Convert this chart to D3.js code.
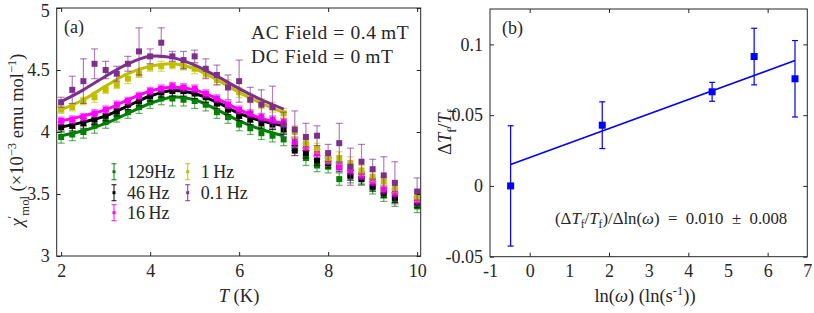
<!DOCTYPE html>
<html>
<head>
<meta charset="utf-8">
<script src="https://cdn.jsdelivr.net/npm/d3@7"></script>
<style>
  body { margin: 0; background: #fff; }
  svg text { font-family: "Liberation Serif", serif; fill: #262626; }
</style>
</head>
<body>
<svg id="canvas"></svg>
<script>
// ---- panel (a): AC susceptibility ----
const temps = [2, 2.25, 2.5, 2.75, 3, 3.25, 3.5, 3.75, 4, 4.25, 4.5, 4.75, 5, 5.25, 5.5, 5.75, 6, 6.25, 6.5, 6.75, 7,
               7.25, 7.5, 7.75, 8, 8.25, 8.5, 8.75, 9, 9.25, 9.5, 10];
const fitTemps = [2, 2.5, 3, 3.5, 4, 4.5, 5, 5.5, 6, 6.5, 7];

const freqLabels = ["129Hz", "46\u2009Hz", "16\u2009Hz", "1\u2009Hz", "0.1\u2009Hz"];
const freqColors = ["#008000", "#000000", "#ff00ff", "#bfbf00", "#7e2f8e"];

const chi129 = [3.96, 3.98, 4.00, 4.05, 4.08, 4.13, 4.16, 4.20, 4.24, 4.27, 4.27, 4.26, 4.25, 4.22, 4.16, 4.12, 4.06, 4.03, 3.99, 3.97, 3.94,
                3.90, 3.79, 3.73, 3.72, 3.62, 3.64, 3.62, 3.55, 3.49, 3.45, 3.40];
const chi46 = [4.04, 4.05, 4.07, 4.10, 4.13, 4.17, 4.22, 4.25, 4.29, 4.32, 4.33, 4.33, 4.31, 4.28, 4.23, 4.18, 4.13, 4.10, 4.07, 4.06, 4.02,
               3.85, 3.83, 3.77, 3.75, 3.72, 3.65, 3.62, 3.56, 3.51, 3.47, 3.43];
const chi16 = [4.09, 4.10, 4.12, 4.15, 4.18, 4.22, 4.25, 4.29, 4.33, 4.35, 4.37, 4.36, 4.35, 4.31, 4.27, 4.22, 4.18, 4.15, 4.12, 4.10, 4.08,
               3.92, 3.88, 3.83, 3.77, 3.72, 3.69, 3.65, 3.60, 3.54, 3.51, 3.45];
const chi1 = [4.18, 4.20, 4.25, 4.28, 4.34, 4.38, 4.43, 4.47, 4.52, 4.53, 4.54, 4.53, 4.51, 4.47, 4.42, 4.38, 4.32, 4.27, 4.23, 4.20, 4.15,
              4.00, 3.91, 3.87, 3.79, 3.79, 3.75, 3.69, 3.64, 3.60, 3.55, 3.48];
const chi01 = [4.24, 4.34, 4.41, 4.55, 4.50, 4.47, 4.55, 4.65, 4.61, 4.72, 4.61, 4.58, 4.61, 4.51, 4.46, 4.36, 4.41, 4.26, 4.22, 4.20, 4.06,
               4.02, 3.96, 3.97, 3.83, 3.91, 3.72, 3.76, 3.70, 3.65, 3.59, 3.52];

const err129 = [0.05, 0.05, 0.05, 0.06, 0.05, 0.05, 0.05, 0.05, 0.05, 0.05, 0.06, 0.05, 0.06, 0.05, 0.05, 0.05, 0.05, 0.05, 0.05, 0.05, 0.05,
                0.05, 0.06, 0.05, 0.05, 0.05, 0.05, 0.05, 0.05, 0.05, 0.05, 0.05];
const err46 = [0.04, 0.04, 0.04, 0.04, 0.04, 0.04, 0.04, 0.04, 0.04, 0.04, 0.04, 0.04, 0.04, 0.04, 0.04, 0.04, 0.04, 0.04, 0.04, 0.04, 0.04,
               0.04, 0.04, 0.04, 0.04, 0.04, 0.04, 0.04, 0.04, 0.04, 0.04, 0.04];
const err16 = [0.03, 0.03, 0.03, 0.03, 0.03, 0.03, 0.03, 0.03, 0.03, 0.03, 0.03, 0.03, 0.03, 0.03, 0.03, 0.03, 0.03, 0.03, 0.03, 0.03, 0.03,
               0.04, 0.03, 0.03, 0.03, 0.03, 0.03, 0.03, 0.03, 0.03, 0.03, 0.03];
const err1 = [0.03, 0.03, 0.03, 0.04, 0.03, 0.03, 0.04, 0.03, 0.03, 0.04, 0.03, 0.03, 0.04, 0.03, 0.04, 0.04, 0.04, 0.03, 0.04, 0.04, 0.04,
              0.05, 0.04, 0.04, 0.04, 0.05, 0.05, 0.04, 0.04, 0.04, 0.04, 0.04];
const err01 = [0.04, 0.11, 0.18, 0.12, 0.07, 0.06, 0.06, 0.19, 0.06, 0.12, 0.04, 0.07, 0.05, 0.08, 0.08, 0.10, 0.17, 0.10, 0.12, 0.17, 0.10,
               0.15, 0.11, 0.08, 0.07, 0.16, 0.15, 0.14, 0.08, 0.15, 0.17, 0.11];

const fit129 = [3.97, 4.01, 4.07, 4.15, 4.23, 4.28, 4.26, 4.18, 4.09, 4.02, 3.97];
const fit46 = [4.04, 4.08, 4.13, 4.21, 4.29, 4.335, 4.31, 4.24, 4.15, 4.09, 4.05];
const fit16 = [4.09, 4.13, 4.18, 4.26, 4.33, 4.36, 4.34, 4.27, 4.18, 4.11, 4.07];
const fit1 = [4.18, 4.26, 4.37, 4.47, 4.53, 4.55, 4.51, 4.42, 4.32, 4.23, 4.156];
const fit01 = [4.245, 4.34, 4.45, 4.55, 4.61, 4.60, 4.54, 4.45, 4.35, 4.26, 4.185];

const tTicks = [2, 4, 6, 8, 10];
const chiTicks = [3, 3.5, 4, 4.5, 5];

// ---- panel (b): freezing temperature shift ----
const lnOmega = [-0.48, 1.83, 4.60, 5.66, 6.69];
const dTf = [0.000, 0.0429, 0.0665, 0.0914, 0.0757];
const dTfErr = [0.0425, 0.0165, 0.0067, 0.020, 0.027];
const lineLn = [-0.48, 6.69];
const lineTf = [0.0151, 0.0886];
const lnTicks = [-1, 0, 1, 2, 3, 4, 5, 6, 7];
const lnMarks = [0, 2, 4, 6];
const tfTicks = [-0.05, 0, 0.05, 0.1];

const width = 814, height = 313;
const axisColor = "#262626";
const serif = "'Liberation Serif', serif";

const svg = d3.select("#canvas")
    .attr("width", width)
    .attr("height", height)
    .attr("font-family", serif);

function frame(g, x0, x1, y0, y1) {
    g.append("rect")
        .attr("x", x0).attr("y", y0)
        .attr("width", x1 - x0).attr("height", y1 - y0)
        .attr("fill", "none").attr("stroke", axisColor).attr("stroke-width", 1);
}

function errorBars(g, xs, ys, es, x, y, color, opacity, cap) {
    const sel = g.append("g");
    xs.forEach((xv, i) => {
        const px = x(xv), lo = y(ys[i] - es[i]), hi = y(ys[i] + es[i]);
        const b = sel.append("g").attr("stroke", color).attr("stroke-opacity", opacity).attr("stroke-width", 1.2);
        b.append("line").attr("x1", px).attr("x2", px).attr("y1", lo).attr("y2", hi);
        b.append("line").attr("x1", px - cap).attr("x2", px + cap).attr("y1", lo).attr("y2", lo);
        b.append("line").attr("x1", px - cap).attr("x2", px + cap).attr("y1", hi).attr("y2", hi);
    });
}

function squares(g, xs, ys, x, y, color, size) {
    g.append("g").selectAll("rect")
        .data(xs)
        .enter()
        .append("rect")
        .attr("x", (d) => x(d) - size / 2)
        .attr("y", (d, i) => y(ys[i]) - size / 2)
        .attr("width", size).attr("height", size)
        .attr("fill", color);
}

// strip d3's default axis font so the serif face is used
function plain(g) {
    g.select(".domain").remove();
    g.attr("font-family", serif).attr("font-size", 18);
}

const minus = (d) => d < 0 ? "-" + Math.abs(d) : d;

// ================= panel (a) =================
const xA = d3.scaleLinear().domain([1.9, 10.08]).range([56.7, 420.7]);
const yA = d3.scaleLinear().domain([3, 5]).range([256, 8]);
const gA = svg.append("g");

const seriesA = [
    { y: chi129, e: err129, f: fit129 },
    { y: chi46, e: err46, f: fit46 },
    { y: chi16, e: err16, f: fit16 },
    { y: chi1, e: err1, f: fit1 },
    { y: chi01, e: err01, f: fit01 }
];

const fitLine = d3.line()
    .x((d) => xA(d[0]))
    .y((d) => yA(d[1]))
    .curve(d3.curveCatmullRom);

seriesA.forEach((s, k) => {
    errorBars(gA, temps, s.y, s.e, xA, yA, freqColors[k], 0.6, 3.5);
    squares(gA, temps, s.y, xA, yA, freqColors[k], 6);
    gA.append("path")
        .datum(fitTemps.map((t, i) => [t, s.f[i]]))
        .attr("d", fitLine)
        .attr("fill", "none")
        .attr("stroke", freqColors[k])
        .attr("stroke-width", 3);
});

gA.append("g")
    .attr("transform", "translate(0,256)")
    .call(d3.axisBottom(xA).tickValues(tTicks).tickSize(-4).tickPadding(8).tickFormat(d3.format("d")))
    .call(plain);
gA.append("g")
    .attr("transform", "translate(0,8)")
    .call(d3.axisTop(xA).tickValues(tTicks).tickSize(-4).tickFormat(""))
    .call(plain);
gA.append("g")
    .attr("transform", "translate(56.7,0)")
    .call(d3.axisLeft(yA).tickValues(chiTicks).tickSize(-4).tickPadding(7).tickFormat((d) => d))
    .call(plain)
    .call((g) => g.selectAll(".tick text").filter((d) => d === 5).attr("dy", "0.45em"));
gA.append("g")
    .attr("transform", "translate(420.7,0)")
    .call(d3.axisRight(yA).tickValues(chiTicks).tickSize(-4).tickFormat(""))
    .call(plain);
frame(gA, 56.7, 420.7, 8, 256);

// ================= panel (b) =================
const xB = d3.scaleLinear().domain([-1, 7]).range([490, 807.3]);
const yB = d3.scaleLinear().domain([-0.05, 0.125]).range([256.7, 9]);
const gB = svg.append("g");

gB.append("line")
    .attr("x1", xB(lineLn[0])).attr("y1", yB(lineTf[0]))
    .attr("x2", xB(lineLn[1])).attr("y2", yB(lineTf[1]))
    .attr("stroke", "#0000ff").attr("stroke-width", 1.6);
errorBars(gB, lnOmega, dTf, dTfErr, xB, yB, "#0000ff", 1, 3);
squares(gB, lnOmega, dTf, xB, yB, "#0000ff", 7);

gB.append("g")
    .attr("transform", "translate(0,256.7)")
    .call(d3.axisBottom(xB).tickValues(lnTicks).tickSize(0).tickPadding(8).tickFormat(minus))
    .call(plain);
gB.append("g")
    .attr("transform", "translate(0,256.7)")
    .call(d3.axisBottom(xB).tickValues(lnMarks).tickSize(-4).tickFormat(""))
    .call(plain);
gB.append("g")
    .attr("transform", "translate(0,9)")
    .call(d3.axisTop(xB).tickValues(lnMarks).tickSize(-4).tickFormat(""))
    .call(plain);
gB.append("g")
    .attr("transform", "translate(490,0)")
    .call(d3.axisLeft(yB).tickValues(tfTicks).tickSize(-4).tickPadding(7).tickFormat(minus))
    .call(plain);
gB.append("g")
    .attr("transform", "translate(807.3,0)")
    .call(d3.axisRight(yB).tickValues(tfTicks).tickSize(-4).tickFormat(""))
    .call(plain);
frame(gB, 490, 807.3, 9, 256.7);

svg.selectAll(".tick line").attr("stroke", axisColor);
svg.selectAll(".tick text").attr("fill", axisColor);

// ---- texts ----
function rich(parent, x, y, parts, size, anchor) {
    const t = parent.append("text")
        .attr("x", x).attr("y", y)
        .attr("font-family", serif)
        .attr("font-size", size)
        .attr("text-anchor", anchor || "start");
    parts.forEach((p) => {
        const sp = t.append("tspan").text(p.t);
        if (p.i) sp.attr("font-style", "italic");
        if (p.small) sp.attr("font-size", size * 0.68);
        if (p.dy !== undefined) sp.attr("dy", p.dy * size);
    });
    return t;
}

rich(svg, 64, 33, [{ t: "(a)" }], 18);
rich(svg, 502, 34, [{ t: "(b)" }], 18);
rich(svg, 251, 39, [{ t: "AC Field = 0.4\u2009mT" }], 19.5).attr("letter-spacing", 0.6);
rich(svg, 251, 63, [{ t: "DC Field = 0\u2009mT" }], 19.5).attr("letter-spacing", 0.6);

// legend
const legendPos = [[114, 171.7], [114, 192.7], [114, 212.7], [187.7, 171.7], [187.7, 192.7]];
freqLabels.forEach((lab, k) => {
    const [lx, ly] = legendPos[k];
    const lg = svg.append("g").attr("stroke", freqColors[k]).attr("stroke-opacity", 0.8).attr("stroke-width", 1.2);
    lg.append("line").attr("x1", lx).attr("x2", lx).attr("y1", ly - 8).attr("y2", ly + 8);
    lg.append("line").attr("x1", lx - 2.5).attr("x2", lx + 2.5).attr("y1", ly - 8).attr("y2", ly - 8);
    lg.append("line").attr("x1", lx - 2.5).attr("x2", lx + 2.5).attr("y1", ly + 8).attr("y2", ly + 8);
    svg.append("rect").attr("x", lx - 1.5).attr("y", ly - 1.5).attr("width", 3).attr("height", 3).attr("fill", freqColors[k]);
    rich(svg, lx + 13, ly + 6, [{ t: lab }], 18);
});

// axis labels
rich(svg, 239, 302, [{ t: "T", i: true }, { t: " (K)" }], 18.5, "middle");
rich(svg, 645, 302, [{ t: "ln(" }, { t: "ω", i: true }, { t: ")  (ln(s" },
    { t: "-1", small: true, dy: -0.38 }, { t: "))", dy: 0.38 }], 18.5, "middle");

const yLabA = svg.append("g").attr("transform", "translate(23,140) rotate(-90)");
rich(yLabA, 0, 0, [{ t: "χ", i: true }, { t: "′", small: true, dy: -0.4 }, { t: "mol", small: true, dy: 0.7 },
    { t: " (×10", dy: -0.3 }, { t: "−3", small: true, dy: -0.4 }, { t: " emu mol", dy: 0.4 },
    { t: "−1", small: true, dy: -0.4 }, { t: ")", dy: 0.4 }], 18.5, "middle");

const yLabB = svg.append("g").attr("transform", "translate(451,132) rotate(-90)");
rich(yLabB, 0, 0, [{ t: "Δ" }, { t: "T", i: true }, { t: "f", small: true, dy: 0.28 }, { t: "/", dy: -0.28 },
    { t: "T", i: true }, { t: "f", small: true, dy: 0.28 }], 18.5, "middle");

rich(svg, 555, 223.5, [{ t: "(Δ" }, { t: "T", i: true }, { t: "f", small: true, dy: 0.28 }, { t: "/", dy: -0.28 },
    { t: "T", i: true }, { t: "f", small: true, dy: 0.28 }, { t: ")/Δln(", dy: -0.28 }, { t: "ω", i: true },
    { t: ")\u2002=\u20020.010\u2002±\u20020.008" }], 16.8);
</script>
</body>
</html>
